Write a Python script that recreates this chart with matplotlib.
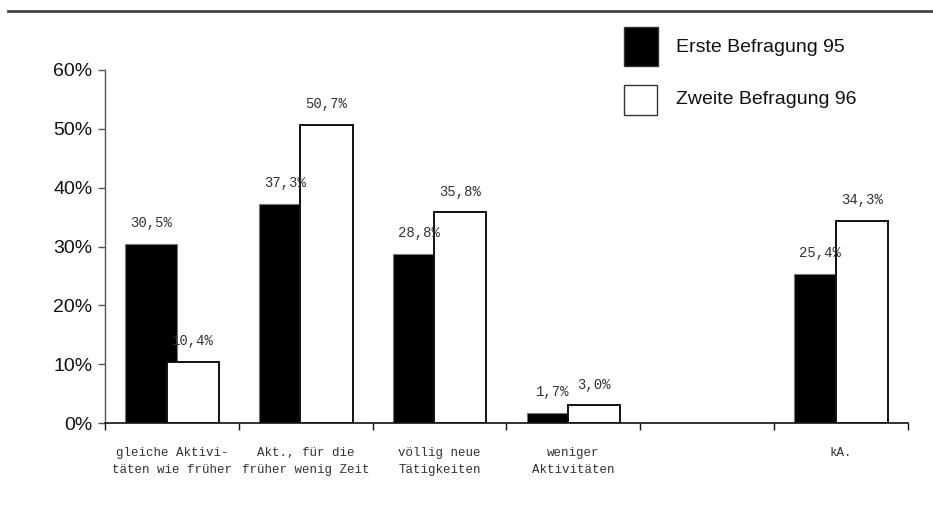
import numpy as np
import matplotlib
matplotlib.use("Agg")
import matplotlib.pyplot as plt
from matplotlib.lines import Line2D
from matplotlib.patches import Rectangle

categories = [
    "gleiche Aktivi-\ntäten wie früher",
    "Akt., für die\nfrüher wenig Zeit",
    "völlig neue\nTätigkeiten",
    "weniger\nAktivitäten",
    "",
    "kA.",
]
series_names = ["Erste Befragung 95", "Zweite Befragung 96"]
erste_95 = [30.5, 37.3, 28.8, 1.7, np.nan, 25.4]
zweite_96 = [10.4, 50.7, 35.8, 3.0, np.nan, 34.3]
y_ticks = [0, 10, 20, 30, 40, 50, 60]

fig = plt.figure(figsize=(9.33, 5.22), dpi=100)
ax = fig.add_axes([105 / 933, 1 - 423 / 522, 803 / 933, 353 / 522])

x = np.arange(len(categories))
width = 0.39
offset = 0.155

ax.bar(x - offset, erste_95, width, color="black", edgecolor="#777777",
       linewidth=0.8, zorder=2)
ax.bar(x + offset, zweite_96, width, color="white", edgecolor="#111111",
       linewidth=1.4, zorder=3)

label_font = dict(family="Liberation Mono", fontsize=10, color="#333333")
for xs, vals in ((x - offset, erste_95), (x + offset, zweite_96)):
    for xi, v in zip(xs, vals):
        if np.isnan(v):
            continue
        ax.annotate(f"{v:.1f}%".replace(".", ","), (xi, v),
                    xytext=(0, 15), textcoords="offset points",
                    ha="center", va="center", zorder=4, **label_font)

ax.set_xlim(-0.5, len(categories) - 0.5)
ax.set_ylim(0, 60)
ax.set_yticks(y_ticks)
ax.set_yticklabels([f"{t}%" for t in y_ticks], family="Liberation Sans",
                   fontsize=14, color="#111111")
ax.tick_params(axis="y", direction="out", length=5, width=1, color="#555555",
               pad=4)

# category boundaries carry the tick marks, labels sit at the centres
ax.set_xticks(np.arange(-0.5, len(categories), 1.0))
ax.set_xticklabels([])
ax.tick_params(axis="x", which="major", direction="out", length=5, width=1,
               color="#111111")
ax.set_xticks(x, minor=True)
ax.set_xticklabels(categories, minor=True, family="Liberation Mono",
                   fontsize=9, color="#333333", linespacing=1.6)
ax.tick_params(axis="x", which="minor", length=0, pad=17)

for side in ("top", "right"):
    ax.spines[side].set_visible(False)
ax.spines["left"].set_color("#555555")
ax.spines["bottom"].set_color("#111111")
ax.spines["left"].set_linewidth(1)
ax.spines["bottom"].set_linewidth(1.2)

# rule across the top of the page
fig.add_artist(Line2D([8 / 933, 1.0], [1 - 11 / 522, 1 - 11 / 522],
                      transform=fig.transFigure, color="#444444", lw=2))

# legend boxes and texts
W, H = 933, 522
boxes = [(624, 27, 34, 39, "black"), (624, 85, 33, 30, "white")]
text_y = [47, 99]
for (bx, by, bw, bh, fc), name, ty in zip(boxes, series_names, text_y):
    fig.add_artist(Rectangle((bx / W, 1 - (by + bh) / H), bw / W, bh / H,
                             transform=fig.transFigure, facecolor=fc,
                             edgecolor="#333333", linewidth=1))
    fig.text(676 / W, 1 - ty / H, name, family="Liberation Sans", fontsize=14,
             color="#111111", ha="left", va="center")

fig.savefig("out.png", dpi=100, facecolor="white")
